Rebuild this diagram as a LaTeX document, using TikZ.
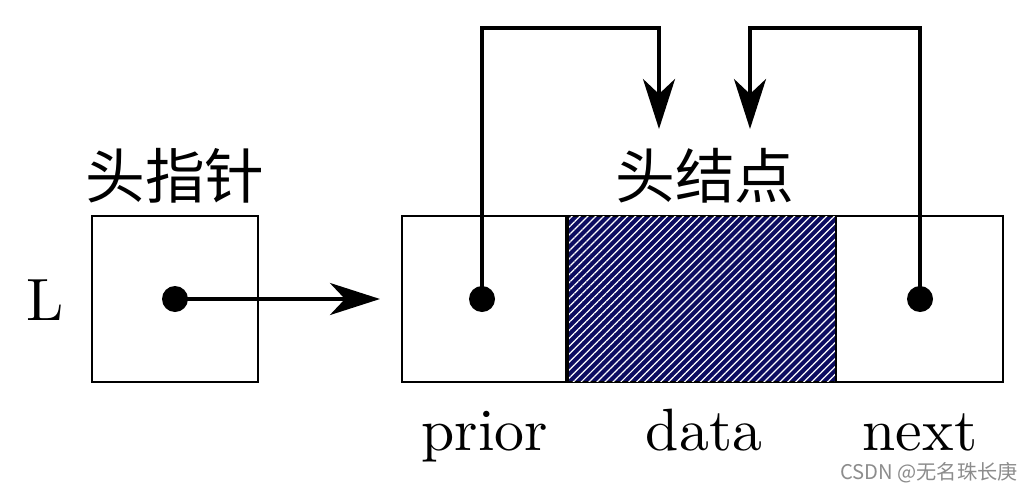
\documentclass[tikz,border=0pt]{standalone}
\usepackage{fontspec}
\newfontfamily\cjk{Noto Sans CJK SC}
\newfontfamily\lmten{lmroman10-regular}[Extension=.otf]
\usetikzlibrary{arrows.meta,patterns.meta}
\definecolor{hatchblue}{RGB}{12,12,96}

\begin{document}
\begin{tikzpicture}[x=0.02cm,y=-0.02cm,
        box/.style={draw,line width=1.2pt,minimum height=3.32cm,inner sep=0pt},
        dot/.style={circle,fill,inner sep=0pt,minimum size=0.52cm},
        arr/.style={line width=2.3pt,-{Stealth[length=1cm,width=0.64cm,inset=0.3cm]}},
        lbl/.style={font=\fontsize{34}{40}\lmten},
        hz/.style={font=\fontsize{34}{40}\selectfont\cjk}]
        \useasboundingbox (0,0) rectangle (1030,494);

        \node[box,minimum width=3.32cm] at (175,299) (L) {};
        \node[box,minimum width=3.32cm] at (485,299) (prior) {};
        \node[box,minimum width=5.36cm,fill=hatchblue,
              postaction={pattern={Lines[angle=45,distance=3.2pt,line width=0.7pt]},pattern color=white}] at (702,299) (data) {};
        \node[box,minimum width=3.34cm] at (919.5,299) (next) {};
        \draw [line width=2.6pt] (data.north west) -- (data.south west);

        \node[lbl] at (45,300) (name) {L};
        \node[hz] at (175,176) (ptr) {头指针};
        \node[hz] at (705,176) (head) {头结点};
        \node[lbl,anchor=base] at (485,450) (t1) {prior};
        \node[lbl,anchor=base] at (704,450) (t2) {data};
        \node[lbl,anchor=base] at (920,450) (t3) {next};

        \node[dot] at (175,299) (d0) {};
        \node[dot] at (482,299) (d1) {};
        \node[dot] at (920,299) (d2) {};

        \coordinate (k1) at (570,28);
        \coordinate (k2) at (835,28);
        \coordinate (e1) at (659,129);
        \coordinate (e2) at (750,129);

        \draw [arr,shorten >=0.42cm] (d0.center) -- (prior.west);
        \draw [arr] (d1.center) |- (k1) -| (e1);
        \draw [arr] (d2.center) |- (k2) -| (e2);

        \node[font=\fontsize{11.5}{13}\selectfont\sffamily\cjk,text=black!45] at (929,473) (mark) {CSDN @无名珠长庚};
    \end{tikzpicture}
\end{document}
